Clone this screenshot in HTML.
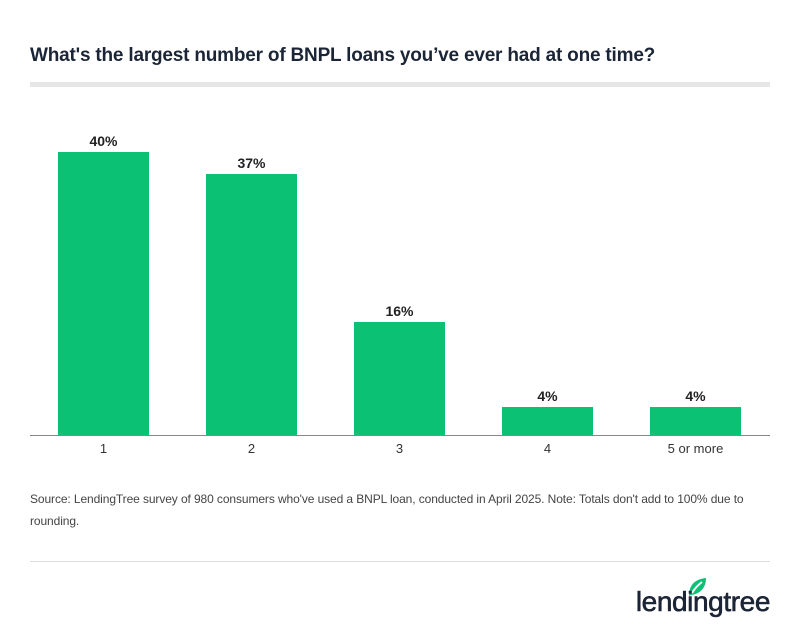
<!DOCTYPE html>
<html><head><style>
body{margin:0;width:800px;height:633px;background:#fff;font-family:"Liberation Sans",sans-serif;position:relative;overflow:hidden}
.a{position:absolute}
.t{left:30px;top:45px;font-size:19px;font-weight:bold;color:#1b2536;letter-spacing:-0.2px}
.bar{position:absolute;background:#0bc174;width:91px}
.v{position:absolute;width:91px;text-align:center;font-size:14px;font-weight:bold;color:#222}
.x{position:absolute;width:91px;text-align:center;font-size:13px;color:#333;top:441px}
.src{left:30px;top:488px;width:740px;font-size:12px;line-height:22px;color:#444;letter-spacing:-0.1px}
</style></head><body>
<div class="a t">What's the largest number of BNPL loans you’ve ever had at one time?</div>
<div class="a" style="left:30px;top:82px;width:740px;height:5px;background:#e6e6e6"></div>
<div class="bar" style="left:58px;top:152px;height:283px"></div><div class="v" style="left:58px;top:133px">40%</div><div class="x" style="left:58px">1</div>
<div class="bar" style="left:206px;top:174px;height:261px"></div><div class="v" style="left:206px;top:155px">37%</div><div class="x" style="left:206px">2</div>
<div class="bar" style="left:354px;top:322px;height:113px"></div><div class="v" style="left:354px;top:303px">16%</div><div class="x" style="left:354px">3</div>
<div class="bar" style="left:502px;top:407px;height:28px"></div><div class="v" style="left:502px;top:388px">4%</div><div class="x" style="left:502px">4</div>
<div class="bar" style="left:650px;top:407px;height:28px"></div><div class="v" style="left:650px;top:388px">4%</div><div class="x" style="left:650px">5 or more</div>
<div class="a" style="left:30px;top:435px;width:740px;height:1px;background:#888"></div>
<div class="a src">Source: LendingTree survey of 980 consumers who've used a BNPL loan, conducted in April 2025. Note: Totals don't add to 100% due to rounding.</div>
<div class="a" style="left:30px;top:561px;width:740px;height:1px;background:#ddd"></div>
<svg class="a" style="left:686px;top:576px" width="22" height="22" viewBox="0 0 22 22"><path d="M3 20 C3 8 10 3 20 2 C20 12 14 18 5 19 Z" fill="#0bc174"/><path d="M6 17 C9 12 12 9 16 6" stroke="#fff" stroke-width="2" fill="none"/></svg>
<div class="a" style="right:30px;top:586px;font-size:28px;font-weight:normal;color:#1b2536;letter-spacing:-0.4px;-webkit-text-stroke:0.6px #1b2536">lendingtree</div>
</body></html>
